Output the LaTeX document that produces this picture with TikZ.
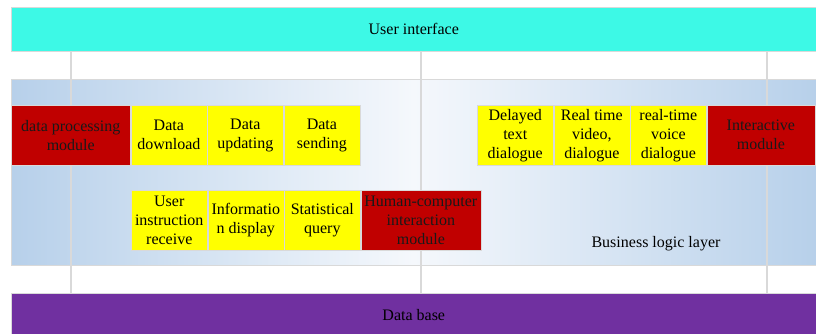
\documentclass[tikz,border=0pt]{standalone}
\usepackage{fontspec}
\setmainfont{Liberation Serif}
\usetikzlibrary{positioning}
\definecolor{uicyan}{HTML}{3DF9E6}
\definecolor{dbpurple}{HTML}{7030A0}
\definecolor{modred}{HTML}{C00000}
\definecolor{funcyellow}{HTML}{FFFF00}
\definecolor{bizblue}{HTML}{B7D0EA}
\definecolor{bizlight}{HTML}{F5F8FC}
\definecolor{gridgray}{HTML}{D9D9D9}

\begin{document}
\begin{tikzpicture}[
    x=0.75pt, y=-0.75pt,
    node distance=0pt,
    txt/.style={font=\fontsize{12}{14.25}\selectfont, text=black},
    layer/.style={txt, draw=gridgray, minimum width=603.75pt, inner sep=0pt, anchor=north west},
    component/.style={txt, draw=gridgray, fill=funcyellow, minimum width=57pt, minimum height=45pt, inner sep=0pt, align=center},
    module/.style={component, fill=modred, text=black!90},
    grid/.style={draw=gridgray, line width=0.8pt}
  ]
    \useasboundingbox (0,0) rectangle (816,333);

    % Layers
    \node[layer, fill=uicyan, minimum height=33pt] (ui) at (11,7) {User interface};
    \node[layer, left color=bizblue, right color=bizblue, middle color=bizlight, minimum height=139.5pt] (biz) at (11,79) {};
    \node[layer, fill=dbpurple, minimum height=33pt] (db) at (11,292.5) {Data base};

    % Grid lines
    \coordinate (g1) at (71,0);
    \coordinate (g2) at (421,0);
    \coordinate (g3) at (767,0);
    \foreach \g in {g1,g2,g3}
      \draw[grid] (\g |- ui.south) -- (\g |- db.north);

    % Modules, first row
    \node[module, minimum width=89.25pt, anchor=north west] (dpm) at (11,105) {data processing\\module};
    \node[component, right=of dpm] (download) {Data\\download};
    \node[component, right=of download] (updating) {Data\\updating};
    \node[component, right=of updating] (sending) {Data\\sending};

    \node[component, anchor=north west] (textdlg) at (477,105) {Delayed\\text\\dialogue};
    \node[component, right=of textdlg] (videodlg) {Real time\\video,\\dialogue};
    \node[component, right=of videodlg] (voicedlg) {real-time\\voice\\dialogue};
    \node[module, minimum width=81pt, right=of voicedlg] (interactive) {Interactive\\module};

    % Modules, second row
    \node[component, anchor=north west] (receive) at (131,190) {User\\instruction\\receive};
    \node[component, right=of receive] (display) {Informatio\\n display};
    \node[component, right=of display] (query) {Statistical\\query};
    \node[module, minimum width=90pt, right=of query] (hci) {Human-computer\\interaction\\module};

    \node[txt] (bizlabel) at (656,244) {Business logic layer};
  \end{tikzpicture}
\end{document}
